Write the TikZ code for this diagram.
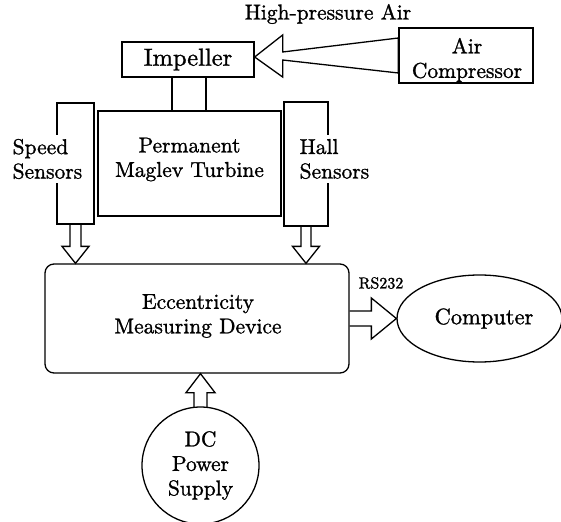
\documentclass[tikz,border=0pt]{standalone}
\usepackage{fontspec}
\setmainfont{lmroman10-regular.otf}[FakeBold=1.2]
\usetikzlibrary{calc,shapes.geometric}
\begin{document}
\begin{tikzpicture}[x=1pt,y=-1pt,line width=1.3pt,
  every node/.style={font=\fontsize{21.5}{24.5}\selectfont},
  box/.style={draw,rectangle,inner sep=0pt},
  txt/.style={inner sep=0pt,align=center},
  lbl/.style={fill=white,inner xsep=1pt,inner ysep=4pt,align=left},
  blk/.style={draw,line join=miter}]
\useasboundingbox (0,0) rectangle (561,521);
% top
\node[txt] (hpa) at (328,14) {High-pressure Air};
\node[box,minimum width=132pt,minimum height=35pt,font=\fontsize{24.5}{28}\selectfont] (imp) at (188,59.5) {Impeller};
\node[box,minimum width=134pt,minimum height=55pt] (comp) at (466,55.5) {};
\node[txt] (complbl) at (467,60) {Air\\Compressor};
\node[box,minimum width=34pt,minimum height=34pt] (shaft) at (189,94) {};
\node[box,minimum width=183pt,minimum height=105pt] (turb) at (189.5,163.5) {};
\node[txt] (turblbl) at (189.5,159.5) {Permanent\\Maglev Turbine};
\node[box,minimum width=37pt,minimum height=121pt] (speed) at (75.5,163.5) {};
\node[box,minimum width=44pt,minimum height=124pt] (hall) at (306,164) {};
\node[lbl,anchor=west] (speedlbl) at (11,159) {Speed\\Sensors};
\node[lbl,anchor=west] (halllbl) at (298,159) {Hall\\Sensors};
% middle
\node[box,rounded corners=9pt,minimum width=304pt,minimum height=109pt] (meas) at (197,318.5) {};
\node[txt] (measlbl) at (198,316) {Eccentricity\\Measuring Device};
\node[draw,ellipse,minimum width=165pt,minimum height=87pt,inner sep=0pt] (pc) at (479.5,318.5) {};
\node[txt,font=\fontsize{22.5}{26}\selectfont] (pclbl) at (484,318.5) {Computer};
\node[inner sep=0pt,font=\fontsize{16}{19}\selectfont] (rs) at (381,283) {RS232};
\node[draw,circle,minimum size=117pt,inner sep=0pt,align=center] (dc) at (200.5,465.5) {DC\\Power\\Supply};
% coordinates
\coordinate (sptip) at (speed.south |- meas.north);
\coordinate (hltip) at (hall.south |- meas.north);
\coordinate (pwtip) at (dc.north |- meas.south);
% compressor arrow
\draw[blk] ($(imp.east)+(0,-2.5)$) -- ++(28,-22) -- ++(0,17)
  -- ($(comp.west)+(0,-17.5)$) -- ($(comp.west)+(0,17.5)$)
  -- ($(imp.east)+(28,0.5)$) -- ++(0,17) -- cycle;
% sensor arrows
\draw[blk] ($(speed.south)+(-5.5,0)$) -- ($(sptip)+(-5.5,-17)$) -- ++(-8,0)
  -- (sptip) -- ++(13.5,-17) -- ++(-8,0) -- ($(speed.south)+(5.5,0)$);
\draw[blk] ($(hall.south)+(-5,0)$) -- ($(hltip)+(-5,-17)$) -- ++(-8.5,0)
  -- (hltip) -- ++(13.5,-17) -- ++(-8.5,0) -- ($(hall.south)+(5,0)$);
% RS232 arrow
\draw[blk] ($(meas.east)+(0,-7.5)$) -- ($(pc.west)+(-25,-7.5)$) -- ++(0,-13)
  -- (pc.west) -- ++(-25,20.5) -- ++(0,-13) -- ($(meas.east)+(0,7.5)$);
% power arrow
\draw[blk] ($(dc.north)+(-6.5,0.5)$) -- ($(pwtip)+(-6.5,19)$) -- ++(-8,0)
  -- (pwtip) -- ++(14.5,19) -- ++(-8,0) -- ($(dc.north)+(6.5,0.5)$);
\end{tikzpicture}
\end{document}
